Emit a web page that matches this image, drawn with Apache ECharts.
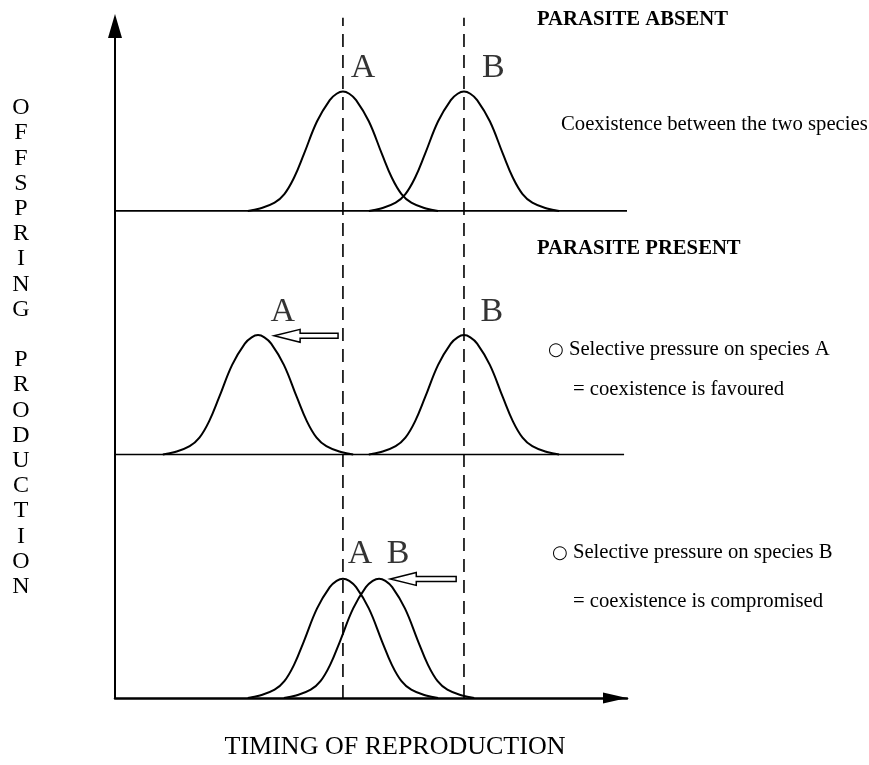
<!DOCTYPE html>
<html><head><meta charset="utf-8">
<script src="https://cdn.jsdelivr.net/npm/echarts@6/dist/echarts.min.js"></script>
<style>html,body{margin:0;padding:0;background:#fff}#c{width:869px;height:765px}</style>
</head><body><div id="c"></div>
<script>
// ---- data (timing units 0..~105, offspring units; panels stacked) ----
const panelBaselines = [200, 100, 0];          // baseline of each panel (top, middle, bottom)
const centersA = [46.7, 29.3, 46.7];           // peak timing of species A per panel
const centersB = [71.5, 71.5, 54.1];           // peak timing of species B per panel
const optimumTimings = [46.7, 71.5];           // dashed reference lines (A, B)
const dashedTop = 279.3;
const baselineEnds = [104.9, 104.3];           // right end of panel 1 and 2 baselines
// bell-shaped curve: offset from peak, height above baseline
const profileOffsets = [-19.5, -17, -14, -12, -10, -8, -5.3, -2.7, -1.3, 0, 1.3, 2.7, 5.3, 8, 10, 12, 14, 17, 19.5];
const profileHeights = [0, 1.0, 3.4, 6.9, 13.7, 23.3, 36.8, 45.5, 48.1, 49, 48.1, 45.5, 36.8, 23.3, 13.7, 6.9, 3.4, 1.0, 0];
const labelsA = [[50.8, 258.8], [34.4, 158.6], [50.2, 59.1]];
const labelsB = [[77.5, 258.8], [77.2, 158.6], [58.0, 59.1]];
const shiftArrows = [[45.7, 32.6, 148.7], [69.9, 56.4, 48.9]]; // tail, tip, level

const FONT = "'Liberation Serif','Times New Roman',serif";

function curve(center, base) {
  return profileOffsets.map((o, i) => [center + o, base + profileHeights[i]]);
}

const series = [];
baselineEnds.forEach((end, i) => {
  series.push({type: 'line', data: [[0, panelBaselines[i]], [end, panelBaselines[i]]], symbol: 'none', clip: false,
    lineStyle: {color: '#000', width: 1.6}, silent: true, z: 2});
});
optimumTimings.forEach(t => {
  series.push({type: 'line', data: [[t, 0], [t, dashedTop]], symbol: 'none', clip: false,
    lineStyle: {color: '#000', width: 1.6, type: [13, 8]}, silent: true, z: 2});
});
panelBaselines.forEach((b, i) => {
  [centersA[i], centersB[i]].forEach(c => {
    series.push({type: 'line', data: curve(c, b), symbol: 'none', smooth: 0.4, clip: false,
      lineStyle: {color: '#000', width: 2}, silent: true, z: 3});
  });
});
series.push({type: 'scatter', symbolSize: 1, itemStyle: {color: 'rgba(0,0,0,0)'},
  data: labelsA.map(p => ({value: p, name: 'A'})).concat(labelsB.map(p => ({value: p, name: 'B'}))),
  label: {show: true, position: 'inside', formatter: '{b}', color: '#000', fontSize: 34, fontFamily: FONT},
  silent: true, z: 4});
series.push({type: 'custom', clip: false, silent: true, z: 5, data: shiftArrows,
  encode: {x: [0, 1], y: 2},
  renderItem: function (params, api) {
    const tail = api.coord([api.value(0), api.value(2)]);
    const tip = api.coord([api.value(1), api.value(2)]);
    const y = tip[1], hb = tip[0] + 26;
    return {type: 'polygon', shape: {points: [[tip[0], y], [hb, y - 6.5], [hb, y - 2.5], [tail[0], y - 2.5],
      [tail[0], y + 2.5], [hb, y + 2.5], [hb, y + 6.5]]},
      style: {fill: '#fff', stroke: '#000', lineWidth: 1.5}};
  }});

function txt(text, x, y, opts) {
  return Object.assign({type: 'text', x: x, y: y, silent: true,
    style: Object.assign({text: text, fill: '#000', font: '20.7px ' + FONT, textVerticalAlign: 'middle'}, opts || {})});
}
const bullet = {c: {font: '18px DejaVu Sans', fill: '#000'}};

const chart = echarts.init(document.getElementById('c'), null, {renderer: 'canvas'});
chart.setOption({
  animation: false,
  backgroundColor: '#fff',
  grid: {left: 115, top: 38, right: 242, bottom: 67},
  xAxis: {type: 'value', min: 0, max: 104.9,
    axisLine: {show: true, onZero: false, symbol: ['none', 'triangle'], symbolSize: [11, 24], symbolOffset: [0, -12],
      lineStyle: {color: '#000', width: 2.5}},
    axisTick: {show: false}, axisLabel: {show: false}, splitLine: {show: false}},
  yAxis: {type: 'value', min: 0, max: 271,
    axisLine: {show: true, onZero: false, symbol: ['none', 'triangle'], symbolSize: [14, 24], symbolOffset: [0, 12],
      lineStyle: {color: '#000', width: 2}},
    axisTick: {show: false}, axisLabel: {show: false}, splitLine: {show: false}},
  graphic: [
    txt('PARASITE ABSENT', 537, 20, {font: 'bold 20.7px ' + FONT}),
    txt('Coexistence between the two species', 561, 125),
    txt('PARASITE PRESENT', 537, 249, {font: 'bold 20.7px ' + FONT}),
    txt('{c|○} Selective pressure on species A', 548, 350, {rich: bullet}),
    txt('= coexistence is favoured', 573, 390),
    txt('{c|○} Selective pressure on species B', 552, 553, {rich: bullet}),
    txt('= coexistence is compromised', 573, 602),
    txt('TIMING OF REPRODUCTION', 395, 747, {font: '26px ' + FONT, textAlign: 'center'}),
    txt('O\nF\nF\nS\nP\nR\nI\nN\nG\n\nP\nR\nO\nD\nU\nC\nT\nI\nO\nN', 21, 95.4,
      {font: '24px ' + FONT, textAlign: 'center', textVerticalAlign: 'top', lineHeight: 25.2})
  ],
  series: series
});
</script></body></html>
